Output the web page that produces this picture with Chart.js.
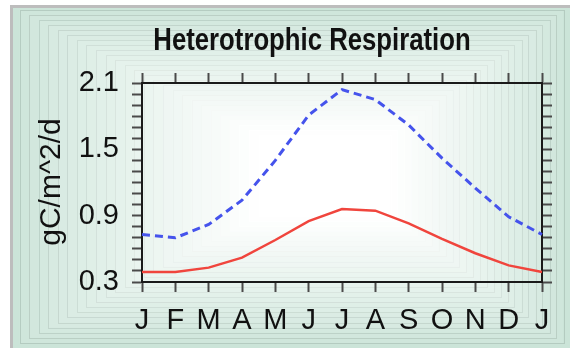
<!DOCTYPE html>
<html>
<head>
<meta charset="utf-8">
<script src="https://cdn.jsdelivr.net/npm/chart.js@4"></script>
<style>
  html, body { margin: 0; padding: 0; background: #fff; }
  #wrap { width: 570px; height: 348px; }
</style>
</head>
<body>
<div id="wrap"><canvas id="hrChart" width="570" height="348"></canvas></div>
<script>
// monthly heterotrophic respiration, gC/m^2/d
const months = ['J', 'F', 'M', 'A', 'M', 'J', 'J', 'A', 'S', 'O', 'N', 'D', 'J'];
const respHigh = [0.73, 0.70, 0.82, 1.04, 1.40, 1.81, 2.04, 1.95, 1.72, 1.42, 1.15, 0.89, 0.73];
const respLow = [0.39, 0.39, 0.43, 0.52, 0.68, 0.85, 0.96, 0.945, 0.83, 0.69, 0.56, 0.45, 0.39];
const yMin = 0.3;
const yMax = 2.1;
const yLabelStep = 0.6;

const FONT = '"Liberation Sans", Arial, Helvetica, sans-serif';

// panel background: stepped green vignette
const panelBg = {
    id: 'panelBg',
    beforeDraw(chart) {
        const { ctx, width, height } = chart;
        ctx.save();
        ctx.fillStyle = '#ffffff';
        ctx.fillRect(0, 0, width, height);
        const x0 = 10, y0 = 5, x1 = width, y1 = height;
        const cx = 335, cy = 175;
        const n = 34;
        const edge = [203, 228, 216];
        for (let i = 0; i < n; i++) {
            const f = i / n;
            const l = x0 + (cx - x0) * f;
            const t = y0 + (cy - y0) * f;
            const r = x1 - (x1 - cx) * f;
            const b = y1 - (y1 - cy) * f;
            const k = Math.min(1, Math.pow(f, 0.8) * 1.25);
            const c = edge.map((v) => Math.round(v + (255 - v) * k));
            ctx.fillStyle = `rgb(${c[0]},${c[1]},${c[2]})`;
            ctx.fillRect(l, t, r - l, b - t);
            const lc = edge.map((v) => Math.round(v - 40 + (255 - v + 40) * Math.min(1, k * 1.05)));
            ctx.strokeStyle = `rgba(${lc[0]},${lc[1]},${lc[2]},0.7)`;
            ctx.lineWidth = 1;
            ctx.strokeRect(Math.round(l) + 0.5, Math.round(t) + 0.5, Math.round(r - l), Math.round(b - t));
        }
        ctx.fillStyle = '#bdbdbd';
        ctx.fillRect(x0, y0, 3, y1 - y0);
        ctx.fillRect(x0, y0, x1 - x0, 3);
        ctx.restore();
    },
};

// title and y axis caption
const captions = {
    id: 'captions',
    afterDraw(chart) {
        const { ctx } = chart;
        ctx.save();
        ctx.fillStyle = '#111';
        ctx.textAlign = 'center';
        ctx.textBaseline = 'alphabetic';
        ctx.font = `bold 31px ${FONT}`;
        ctx.translate(312, 50);
        ctx.scale(0.83, 1);
        ctx.fillText('Heterotrophic Respiration', 0, 0);
        ctx.restore();

        ctx.save();
        ctx.fillStyle = '#111';
        ctx.font = `30px ${FONT}`;
        ctx.textAlign = 'center';
        ctx.textBaseline = 'middle';
        ctx.translate(52, 182);
        ctx.rotate(-Math.PI / 2);
        ctx.fillText('gC/m^2/d', 0, 0);
        ctx.restore();
    },
};

const blank = () => '';
const axisGrid = { drawOnChartArea: false, drawTicks: true, tickLength: 10, tickWidth: 2, tickColor: '#4a4a4a' };
const axisBorder = { display: true, color: '#1a1a1a', width: 2 };

new Chart(document.getElementById('hrChart'), {
    type: 'line',
    data: {
        labels: months,
        datasets: [
            { data: respHigh, borderColor: '#4553ec', borderWidth: 3, borderDash: [8, 5], pointRadius: 0, tension: 0, fill: false },
            { data: respLow, borderColor: '#f0453d', borderWidth: 2.5, pointRadius: 0, tension: 0, fill: false },
        ],
    },
    options: {
        responsive: false,
        animation: false,
        devicePixelRatio: 1,
        layout: { padding: 0 },
        plugins: { legend: { display: false }, title: { display: false }, tooltip: { enabled: false } },
        scales: {
            x: {
                type: 'category',
                position: 'bottom',
                offset: false,
                grid: axisGrid,
                border: axisBorder,
                ticks: { autoSkip: false, maxRotation: 0, padding: 12, color: '#111', font: { family: FONT, size: 29 } },
                afterFit: (s) => { s.height = 66; },
            },
            x2: {
                type: 'category',
                position: 'top',
                offset: false,
                grid: axisGrid,
                border: axisBorder,
                ticks: { autoSkip: false, maxRotation: 0, callback: blank },
                afterFit: (s) => { s.height = 83; },
            },
            y: {
                type: 'linear',
                position: 'left',
                min: yMin,
                max: yMax,
                grid: axisGrid,
                border: axisBorder,
                ticks: {
                    stepSize: 0.1,
                    autoSkip: false,
                    padding: 13,
                    color: '#111',
                    font: { family: FONT, size: 29 },
                    callback: (v) => {
                        const q = (v - yMin) / yLabelStep;
                        return Math.abs(q - Math.round(q)) < 1e-6 ? v.toFixed(1) : '';
                    },
                },
                afterFit: (s) => { s.width = 142; },
            },
            y2: {
                type: 'linear',
                position: 'right',
                min: yMin,
                max: yMax,
                grid: axisGrid,
                border: axisBorder,
                ticks: { stepSize: 0.1, autoSkip: false, callback: blank },
                afterFit: (s) => { s.width = 28; },
            },
        },
    },
    plugins: [panelBg, captions],
});
</script>
</body>
</html>
